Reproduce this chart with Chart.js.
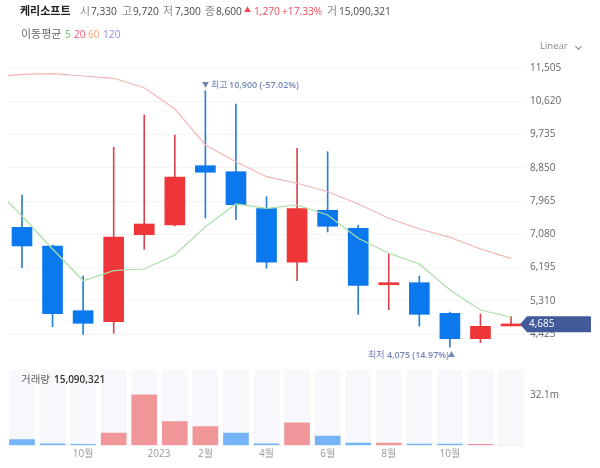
<!DOCTYPE html>
<html lang="ko"><head><meta charset="utf-8">
<script src="https://cdn.jsdelivr.net/npm/chart.js@4"></script>
<style>
html,body{margin:0;padding:0;background:#fff;width:600px;height:468px;overflow:hidden}
body{font-family:"Open Sans","Noto Sans CJK KR",sans-serif;position:relative}
canvas{position:absolute;left:0;display:block}
.t{position:absolute;white-space:nowrap;line-height:14px;font-size:10.2px;color:#4a4a4a;transform:translateY(-50%);z-index:2}
.k{font-size:11px}
.g{color:#8a8a8a}.b{font-weight:600;color:#333;font-size:10px}.r{color:#ee4a5a}
.mk{color:#7084b4;font-size:9px}.mk b{font-weight:600;color:#7387b6}
</style></head><body>
<canvas id="price" width="600" height="380" style="top:0;width:600px;height:380px"></canvas>
<canvas id="vol" width="600" height="108" style="top:360px;width:600px;height:108px"></canvas>
<span class="t k" style="left:20px;top:11px;font-weight:700;color:#222">케리소프트</span>
<span class="t k g" style="left:80px;top:11px">시</span><span class="t" style="left:91px;top:11px">7,330</span>
<span class="t k g" style="left:122px;top:11px">고</span><span class="t" style="left:133px;top:11px">9,720</span>
<span class="t k g" style="left:163px;top:11px">저</span><span class="t" style="left:175px;top:11px">7,300</span>
<span class="t k g" style="left:205px;top:11px">종</span><span class="t" style="left:216px;top:11px">8,600</span>
<span class="t r" style="left:244px;top:10px;font-size:7px">▲</span><span class="t r" style="left:254px;top:11px">1,270</span>
<span class="t r" style="left:282px;top:11px">+17.33%</span>
<span class="t k g" style="left:327px;top:11px">거</span><span class="t" style="left:339px;top:11px">15,090,321</span>
<span class="t k" style="left:21px;top:34px;color:#666">이동평균</span>
<span class="t" style="left:65px;top:34px;color:#6cc06c">5</span>
<span class="t" style="left:74px;top:34px;color:#ee5a70">20</span>
<span class="t" style="left:88px;top:34px;color:#f0a570">60</span>
<span class="t" style="left:103px;top:34px;color:#9b86e8">120</span>
<span class="t g" style="left:540px;top:46px;font-size:9.5px">Linear</span>
<span style="position:absolute;left:575.5px;top:44px;width:4px;height:4px;border-right:1px solid #888;border-bottom:1px solid #888;transform:rotate(45deg)"></span>
<span class="t mk" style="left:202px;top:85px;font-size:7px">▼</span>
<span class="t mk" style="left:211px;top:85px">최고</span>
<span class="t mk" style="left:229px;top:85px"><b>10,900 (-57.02%)</b></span>
<span class="t mk" style="left:368px;top:355px">최저</span>
<span class="t mk" style="left:387px;top:355px"><b>4,075 (14.97%)</b></span>
<span class="t mk" style="left:448px;top:354.5px;font-size:7px">▲</span>
<span class="t k" style="left:21px;top:379px;color:#666;font-size:10.5px">거래량</span>
<span class="t b" style="left:54px;top:379px">15,090,321</span>
<script>
const categories=["2022-08","2022-09","2022-10","2022-11","2022-12","2023-01","2023-02","2023-03","2023-04","2023-05","2023-06","2023-07","2023-08","2023-09","2023-10","2023-11","2023-12"];
const opens =[7265,6768,5045,4752,7068,7330,8905,8745,7761,6334,7718,7239,5737,5791,4976,4300,4640];
const highs =[8125,6794,5969,9395,10255,9720,10900,10548,8080,9368,9278,7319,6563,5969,5011,4957,4886];
const lows  =[6190,4619,4417,4444,6680,7300,7513,7468,6174,5844,7140,4949,5072,4638,4075,4193,4640];
const closes=[6768,4965,4710,7007,7353,8600,8730,7867,6334,7761,7292,5721,5791,4949,4300,4630,4685];
// moving averages: first entry belongs to the month before the visible range
const ma5 =[8391,7566,6688,5844,6110,6155,6528,7281,7886,7771,7859,7593,6973,6573,6288,5596,5064,4870];
const ma20=[11256,11338,11354,11293,11232,10981,10415,9456,9012,8612,8437,8213,7886,7505,7220,6999,6688,6440];
const volumes=[3.7,1.0,0.6,7.85,32.1,15.09,12.0,7.85,1.0,14.3,5.8,1.4,1.4,0.8,0.8,0.62,0];
const priceTicks=[4425,5310,6195,7080,7965,8850,9735,10620,11505];
const volTicks=[32.1];
const xTickPos=[2,4.48,6,8,10,12,14];
const xTickLabels=["10월","2023","2월","4월","6월","8월","10월"];
const lastPrice=4685;
const PRICE_MIN=3946,PRICE_MAX=11825,VOL_MAX=48,X_MIN=-0.458,X_MAX=16.49;

const RED="#ee3538",BLUE="#0b78ee",WRED="#d94452",WBLUE="#2a7fd0",VRED="#f09598",VBLUE="#74b3f8";
const up=i=>closes[i]>=opens[i];
const volUp=i=>i>0&&closes[i]>=closes[i-1];
const font={family:'"Open Sans","Noto Sans CJK KR",sans-serif',size:10};

const tag={id:"tag",afterDraw(c){
  const y=c.scales.y.getPixelForValue(lastPrice),x=c.chartArea.right,g=c.ctx;
  g.save();g.fillStyle="#42599a";g.beginPath();
  g.moveTo(x-6,y);g.lineTo(x+1,y-8);g.lineTo(x+64,y-8);g.quadraticCurveTo(x+65,y-8,x+65,y-7);
  g.lineTo(x+65,y+7);g.quadraticCurveTo(x+65,y+8,x+64,y+8);g.lineTo(x+1,y+8);g.closePath();g.fill();
  g.fillStyle="#fff";g.font='10px "Open Sans","Noto Sans CJK KR",sans-serif';g.textBaseline="middle";g.textAlign="left";
  g.fillText(lastPrice.toLocaleString("en-US"),x+3,y);g.restore();
}};

new Chart(document.getElementById("price"),{
  type:"bar",plugins:[tag],
  data:{datasets:[
    {type:"line",data:ma5.map((v,i)=>({x:i-1,y:v})),borderColor:"#a9dfa4",borderWidth:1.2,pointRadius:0,tension:0,order:1},
    {type:"line",data:ma20.map((v,i)=>({x:i-1,y:v})),borderColor:"#f5b4b4",borderWidth:1.2,pointRadius:0,tension:0,order:2},
    {data:opens.map((o,i)=>({x:i,y:[o,closes[i]]})),barThickness:20,minBarLength:2,grouped:false,
     backgroundColor:opens.map((o,i)=>up(i)?RED:BLUE),order:3},
    {data:highs.map((h,i)=>({x:i,y:[lows[i],h]})),barThickness:1,grouped:false,
     backgroundColor:opens.map((o,i)=>up(i)?WRED:WBLUE),order:4}
  ]},
  options:{responsive:false,animation:false,devicePixelRatio:1,
    layout:{padding:{left:8,top:56,right:0,bottom:28}},
    plugins:{legend:{display:false},tooltip:{enabled:false}},
    scales:{
      x:{type:"linear",min:X_MIN,max:X_MAX,offset:false,display:false},
      y:{type:"linear",position:"right",min:PRICE_MIN,max:PRICE_MAX,
        afterBuildTicks:s=>{s.ticks=priceTicks.map(v=>({value:v}))},
        afterFit:s=>{s.width=74},
        border:{display:false},
        grid:{color:"#f5f5f5",drawTicks:false},
        ticks:{padding:4,color:"#666",font,callback:v=>v.toLocaleString("en-US")}}
    }}
});

new Chart(document.getElementById("vol"),{
  type:"bar",
  data:{datasets:[
    {data:volumes.map((v,i)=>({x:i,y:v})),barThickness:25,grouped:false,
     backgroundColor:volumes.map((v,i)=>volUp(i)?VRED:VBLUE),order:1},
    {data:volumes.map((v,i)=>({x:i,y:VOL_MAX})),barThickness:25,grouped:false,backgroundColor:"#f6f8fb",order:2}
  ]},
  options:{responsive:false,animation:false,devicePixelRatio:1,
    layout:{padding:{left:8,top:8.3,right:0,bottom:0}},
    plugins:{legend:{display:false},tooltip:{enabled:false}},
    scales:{
      x:{type:"linear",min:X_MIN,max:X_MAX,offset:false,
        afterBuildTicks:s=>{s.ticks=xTickPos.map(v=>({value:v}))},
        afterFit:s=>{s.height=22.7},
        border:{display:false},grid:{display:false,drawTicks:false},
        ticks:{autoSkip:false,maxRotation:0,padding:3,color:"#999",font,
          callback:v=>xTickLabels[xTickPos.indexOf(v)]}},
      y:{type:"linear",position:"right",min:0,max:VOL_MAX,
        afterBuildTicks:s=>{s.ticks=volTicks.map(v=>({value:v}))},
        afterFit:s=>{s.width=74},
        border:{display:false},grid:{display:false,drawTicks:false},
        ticks:{padding:4,color:"#666",font,callback:v=>v+"m"}}
    }}
});
</script>
</body></html>
